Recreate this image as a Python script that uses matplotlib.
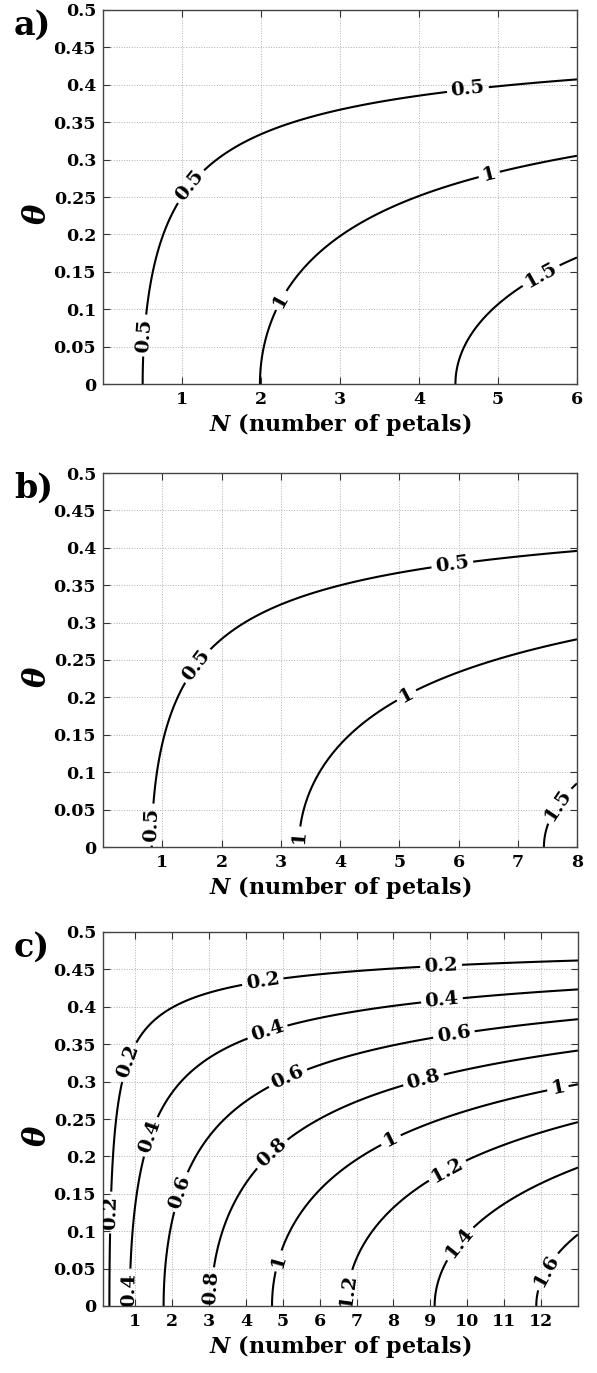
import numpy as np
import matplotlib
matplotlib.use("Agg")
import matplotlib.pyplot as plt

# ---------------- data ----------------
# contour levels and the N value where each contour meets theta = 0
a_levels = [0.5, 1.0, 1.5]
a_N0 = [0.50, 1.99, 4.46]
b_levels = [0.5, 1.0, 1.5]
b_N0 = [0.82, 3.31, 7.44]
c_levels = [0.2, 0.4, 0.6, 0.8, 1.0, 1.2, 1.4, 1.6]
c_N0 = [0.30, 0.86, 1.77, 3.06, 4.71, 6.73, 9.10, 11.88]

# axis ranges and ticks
a_xlim = (0.0, 6.0)
b_xlim = (0.0, 8.0)
c_xlim = (0.13, 13.0)
a_xticks = [1, 2, 3, 4, 5, 6]
b_xticks = [1, 2, 3, 4, 5, 6, 7, 8]
c_xticks = [1, 2, 3, 4, 5, 6, 7, 8, 9, 10, 11, 12]
y_ticks = [0, 0.05, 0.1, 0.15, 0.2, 0.25, 0.3, 0.35, 0.4, 0.45, 0.5]
y_ticklabels = ["0", "0.05", "0.1", "0.15", "0.2", "0.25", "0.3", "0.35", "0.4", "0.45", "0.5"]

# contour label anchor points (N, theta)
a_labels = [(0.5, 0.065), (1.1, 0.265), (4.62, 0.393), (2.25, 0.112), (4.89, 0.28), (5.52, 0.15)]
b_labels = [(0.82, 0.03), (1.55, 0.245), (5.9, 0.375), (5.14, 0.2), (3.31, 0.013), (7.48, 0.067)]
c_labels = [(0.3, 0.125), (0.6, 0.33), (4.44, 0.44), (9.29, 0.455),
            (0.86, 0.022), (1.14, 0.231), (4.48, 0.383), (9.29, 0.42),
            (1.9, 0.158), (5.0, 0.32), (9.6, 0.375),
            (3.06, 0.024), (4.53, 0.213), (8.74, 0.316),
            (4.9, 0.06), (7.93, 0.222), (12.46, 0.29),
            (6.73, 0.021), (9.33, 0.193),
            (9.56, 0.093),
            (11.73, 0.058)]

panels = [
    ("a)", a_levels, a_N0, a_xlim, a_xticks, a_labels),
    ("b)", b_levels, b_N0, b_xlim, b_xticks, b_labels),
    ("c)", c_levels, c_N0, c_xlim, c_xticks, c_labels),
]

# ---------------- style ----------------
plt.rcParams["font.family"] = ["DejaVu Serif"]
plt.rcParams["font.weight"] = "bold"
plt.rcParams["mathtext.fontset"] = "custom"
plt.rcParams["mathtext.it"] = "DejaVu Serif:italic:bold"
plt.rcParams["mathtext.rm"] = "DejaVu Serif:bold"
plt.rcParams["mathtext.bf"] = "DejaVu Serif:bold"

W, H = 597, 1373
fig = plt.figure(figsize=(W / 100, H / 100), dpi=100)

axes_px = [  # left, top, right, bottom in pixels
    (103, 10, 577, 384),
    (103, 473, 577, 847),
    (103, 932, 578, 1306),
]

for (tag, levels, N0, xlim, xticks, lab), (l, t, r, b) in zip(panels, axes_px):
    ax = fig.add_axes([l / W, 1 - b / H, (r - l) / W, (b - t) / H])
    # field whose theta = 0 crossings follow the read intercepts
    A, B = np.polyfit(np.array(levels) ** 2, np.array(N0), 1)
    n = np.linspace(xlim[0], xlim[1], 600)
    th = np.linspace(0, 0.5, 500)
    NN, TT = np.meshgrid(n, th)
    Z = np.sqrt(np.clip(NN - B, 0, None) / A) * np.cos(np.pi * TT)
    cs = ax.contour(NN, TT, Z, levels=levels, colors="k", linewidths=1.5)
    ax.clabel(cs, manual=lab, inline=True, inline_spacing=4,
              fmt=lambda v: f"{v:g}", fontsize=14)

    ax.set_xlim(*xlim)
    ax.set_ylim(0, 0.5)
    ax.set_xticks(xticks)
    ax.set_xticklabels([str(x) for x in xticks])
    ax.set_yticks(y_ticks)
    ax.set_yticklabels(y_ticklabels)
    ax.tick_params(direction="in", length=5, width=0.8, top=True, right=True,
                   labelsize=12.5, pad=5, colors="#333333", labelcolor="black")
    ax.grid(True, color="#b0b0b0", linestyle=":", linewidth=0.7)
    ax.set_axisbelow(True)
    for s in ax.spines.values():
        s.set_color("#444444")
        s.set_linewidth(1.0)
    ax.set_xlabel(r"$N\ \mathbf{(number\ of\ petals)}$", fontsize=16, labelpad=2)
    ax.set_ylabel("θ", fontsize=22, style="italic", fontweight="bold", rotation=90)
    ax.yaxis.set_label_coords(-0.105, 0.455)
    fig.text(14 / W, 1 - (t + 15) / H, tag, fontsize=24, fontweight="bold",
             ha="left", va="center")

fig.savefig("out.png", dpi=100)
